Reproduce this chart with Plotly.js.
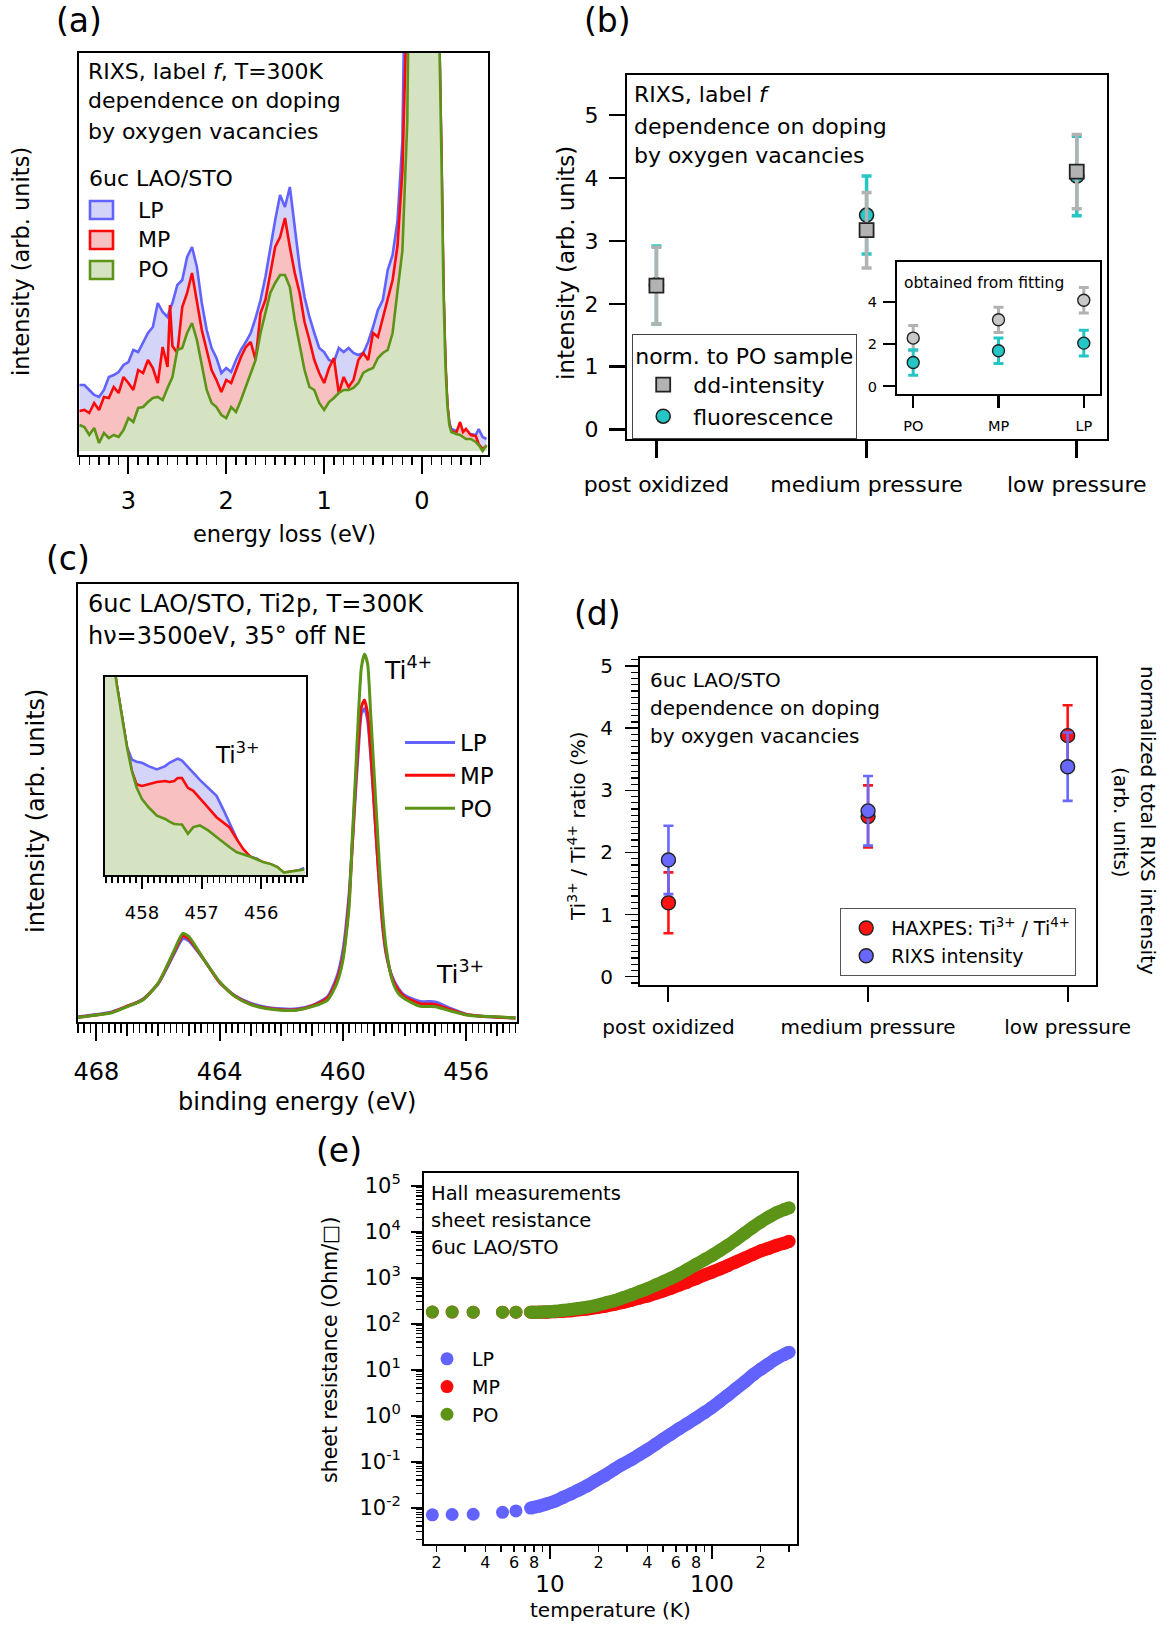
<!DOCTYPE html>
<html>
<head>
<meta charset="utf-8">
<script src="https://cdn.plot.ly/plotly-3.0.1.min.js"></script>
<style>
  html, body { margin: 0; padding: 0; background: #fff; }
  #fig { width: 1169px; height: 1625px; }
</style>
</head>
<body>
<div id="fig"></div>
<script>
// ---------------- (a) RIXS spectra vs energy loss ----------------
const lossEV = [3.50,3.45,3.40,3.35,3.30,3.25,3.20,3.15,3.10,3.05,
  3.00,2.95,2.90,2.85,2.80,2.75,2.70,2.65,2.60,2.575,
  2.55,2.50,2.45,2.40,2.35,2.30,2.25,2.20,2.15,2.10,
  2.05,2.00,1.95,1.90,1.85,1.80,1.75,1.70,1.65,1.60,
  1.55,1.50,1.45,1.40,1.35,1.30,1.25,1.20,1.15,1.10,
  1.05,1.00,0.95,0.90,0.85,0.80,0.75,0.70,0.65,0.60,
  0.55,0.50,0.45,0.40,0.35,0.30,0.25,0.20,0.15,0.10,
  0.05,0.00,-0.05,-0.10,-0.15,-0.18,-0.20,-0.22,-0.24,-0.26,
  -0.28,-0.30,-0.35,-0.39,-0.42,-0.45,-0.50,-0.55,-0.58,-0.62,
  -0.66];
const rixsLP = [0.66,0.66,0.61,0.56,0.54,0.61,0.74,0.76,0.79,0.86,
  0.89,1.01,0.99,1.09,1.18,1.24,1.48,1.39,1.34,1.42,
  1.48,1.66,1.71,1.94,2.04,1.84,1.48,1.21,1.03,0.93,
  0.78,0.83,0.79,0.91,1.01,1.09,1.18,1.33,1.51,1.74,
  2.04,2.31,2.56,2.44,2.64,2.24,1.84,1.54,1.34,1.18,
  1.03,0.99,0.91,0.89,1.03,0.99,1.03,0.98,0.96,0.98,
  1.09,1.24,1.41,1.51,1.81,1.96,2.30,3.10,5.0,9.0,
  14,16,15,11,6.5,4.0,2.9,1.6,0.85,0.45,
  0.28,0.22,0.20,0.22,0.17,0.16,0.17,0.16,0.22,0.14,
  0.12];
const rixsMP = [0.40,0.41,0.38,0.48,0.41,0.54,0.53,0.64,0.58,0.74,
  0.68,0.61,0.81,0.78,0.91,0.83,0.68,1.04,0.84,1.46,
  1.05,0.98,1.44,1.58,1.78,1.48,1.21,1.01,0.81,0.71,
  0.59,0.71,0.68,0.81,0.94,1.04,1.09,0.91,1.38,1.51,
  1.78,2.04,2.14,2.33,2.04,1.78,1.58,1.29,1.11,0.91,
  0.78,0.68,0.83,0.93,0.58,0.74,0.64,0.71,0.91,0.98,
  0.91,1.18,1.14,1.34,1.51,1.71,2.05,2.80,4.6,8.5,
  14,16,15,11,6.5,4.0,2.95,1.65,0.9,0.47,
  0.27,0.20,0.18,0.29,0.19,0.22,0.16,0.15,0.07,0.02,
  0.05];
const rixsPO = [0.26,0.24,0.16,0.23,0.08,0.18,0.13,0.16,0.14,0.21,
  0.33,0.29,0.43,0.44,0.49,0.53,0.54,0.51,0.63,0.68,
  0.74,1.01,1.03,1.18,1.28,1.11,0.84,0.61,0.48,0.44,
  0.36,0.33,0.44,0.39,0.51,0.64,0.78,0.91,1.18,1.38,
  1.58,1.68,1.76,1.76,1.64,1.31,1.04,0.81,0.64,0.61,
  0.48,0.41,0.49,0.53,0.58,0.61,0.61,0.63,0.68,0.78,
  0.81,0.83,0.93,0.98,1.01,1.18,1.60,2.00,3.3,7.0,
  12,16,15,11,6.5,4.0,2.9,1.6,0.85,0.45,
  0.26,0.19,0.17,0.16,0.14,0.12,0.12,0.09,0.06,0.00,
  0.06];

// ---------------- (b) dd-intensity and fluorescence ----------------
const sampleNames = ['post oxidized', 'medium pressure', 'low pressure'];
const ddIntensity = [2.29, 3.17, 4.10];
const ddIntensityErr = [0.61, 0.60, 0.59];
const fluorescence = [2.30, 3.41, 4.03];
const fluorescenceErr = [0.62, 0.62, 0.63];
// inset: values obtained from fitting
const sampleShort = ['PO', 'MP', 'LP'];
const fitDD = [2.30, 3.17, 4.10];
const fitDDErr = [0.60, 0.60, 0.61];
const fitFluor = [1.14, 1.70, 2.06];
const fitFluorErr = [0.61, 0.61, 0.61];

// ---------------- (c) HAXPES Ti 2p ----------------
const bindingEV = [468.6,468.0,467.5,467.0,466.5,466.0,465.5,465.2,465.0,464.5,
  464.0,463.5,463.0,462.5,462.0,461.5,461.0,460.5,460.2,460.0,
  459.8,459.7,459.6,459.5,459.4,459.3,459.2,459.1,459.0,458.9,
  458.8,458.7,458.6,458.4,458.2,458.0,457.5,457.0,456.5,456.0,
  455.5,455.0,454.4];
const ti2pLP = [0.012,0.017,0.023,0.036,0.052,0.087,0.153,0.190,0.185,0.141,
  0.090,0.060,0.043,0.034,0.030,0.030,0.038,0.058,0.103,0.164,
  0.293,0.400,0.514,0.620,0.704,0.716,0.689,0.610,0.506,0.400,
  0.293,0.210,0.156,0.103,0.077,0.061,0.047,0.046,0.031,0.018,
  0.013,0.011,0.009];
const ti2pMP = [0.011,0.016,0.022,0.036,0.051,0.088,0.157,0.196,0.190,0.141,
  0.090,0.059,0.041,0.032,0.028,0.028,0.037,0.055,0.096,0.149,
  0.278,0.400,0.530,0.640,0.720,0.735,0.704,0.620,0.514,0.400,
  0.300,0.215,0.160,0.100,0.073,0.058,0.042,0.040,0.028,0.017,
  0.013,0.011,0.009];
const ti2pPO = [0.010,0.016,0.021,0.035,0.050,0.088,0.160,0.202,0.195,0.141,
  0.092,0.058,0.040,0.031,0.027,0.027,0.035,0.050,0.088,0.141,
  0.263,0.415,0.552,0.697,0.810,0.840,0.818,0.704,0.582,0.461,
  0.339,0.240,0.171,0.095,0.065,0.053,0.036,0.035,0.025,0.016,
  0.013,0.012,0.009];
// inset: Ti3+ shoulder region
const shoulderEV = [458.65,458.50,458.43,458.34,458.25,458.17,458.09,458.00,457.89,457.75,
  457.61,457.54,457.46,457.40,457.33,457.23,457.14,457.03,456.89,456.75,
  456.64,456.53,456.41,456.30,456.18,456.07,455.96,455.84,455.73,455.62,
  455.51,455.40,455.28];
const shoulderLP = [1.50,1.15,0.975,0.808,0.645,0.583,0.572,0.567,0.550,0.533,
  0.550,0.567,0.580,0.588,0.578,0.545,0.520,0.480,0.440,0.400,
  0.333,0.258,0.183,0.117,0.092,0.083,0.058,0.053,0.033,0.008,
  0.008,0.020,0.035];
const shoulderMP = [1.50,1.15,0.975,0.808,0.642,0.525,0.458,0.450,0.458,0.470,
  0.475,0.470,0.475,0.490,0.490,0.440,0.425,0.385,0.340,0.292,
  0.267,0.240,0.180,0.130,0.092,0.078,0.064,0.055,0.040,0.012,
  0.017,0.022,0.010];
const shoulderPO = [1.50,1.15,0.975,0.808,0.642,0.525,0.442,0.383,0.342,0.300,
  0.283,0.270,0.258,0.256,0.255,0.208,0.242,0.250,0.225,0.192,
  0.165,0.140,0.115,0.105,0.092,0.078,0.064,0.055,0.040,0.012,
  0.017,0.025,0.028];

// ---------------- (d) Ti3+/Ti4+ ratio and RIXS intensity ----------------
const haxpesRatio = [1.19, 2.58, 3.88];
const haxpesErr = [0.49, 0.50, 0.49];
const rixsTotal = [1.88, 2.67, 3.38];
const rixsTotalErr = [0.55, 0.56, 0.55];

// ---------------- (e) sheet resistance vs temperature ----------------
const temperatureK = [1.88,2.49,3.36,5.10,6.17,7.6,8.5,9.5,10.7,12,
  13.5,15,17,19.5,22,25,28,32,36,40,
  45,50,56,63,70,80,90,100,112,125,
  140,160,180,200,225,250,280,300];
const sheetLP = [0.0070,0.0071,0.0072,0.0079,0.0085,0.0098,0.0107,0.0120,0.0138,0.0166,
  0.0200,0.024,0.030,0.040,0.051,0.068,0.087,0.112,0.145,0.182,
  0.240,0.309,0.398,0.525,0.66,0.89,1.17,1.51,2.04,2.75,
  3.80,5.50,7.76,10.2,13.5,17.4,21.4,24.0];
const sheetMP = [179,179,178,178,178,178,178,178,182,186,
  191,200,209,224,240,263,288,324,363,398,
  457,513,589,692,794,955,1148,1318,1549,1820,
  2188,2692,3236,3802,4365,5012,5623,6166];
const sheetPO = [180,180,178,178,178,178,178,182,186,195,
  204,214,229,251,282,316,363,427,501,575,
  692,813,977,1202,1479,1950,2455,3020,3890,5010,
  6610,9330,12600,16200,20900,25700,30200,33100];
// the first five readings are isolated low-temperature points; the rest is a continuous sweep
const sweepStart = 5;

// ---------------- styling ----------------
const W = 1169, H = 1625;
const FONT = 'DejaVu Sans, Verdana, sans-serif';
const C_LP = 'rgb(98,98,255)', C_MP = 'rgb(250,10,10)', C_PO = 'rgb(92,148,24)';
const F_LP = 'rgb(212,212,248)', F_MP = 'rgb(248,192,192)', F_PO = 'rgb(214,227,194)';
const C_GREY = 'rgb(178,178,178)', C_CYAN = 'rgb(36,198,198)';
const C_HAX = 'rgb(255,20,20)', C_RIXS = 'rgb(104,104,255)';
const DOT = 13;

const hdom = (l, r) => [l / W, r / W];
const vdom = (top, bottom) => [1 - bottom / H, 1 - top / H];

function frame(extra) {
  return Object.assign({
    showline: true, mirror: true, linecolor: '#000', linewidth: 2,
    showgrid: false, zeroline: false, ticks: 'outside', tickcolor: '#000',
    tickwidth: 2, fixedrange: true,
    tickfont: { family: FONT, size: 22, color: '#000' }
  }, extra);
}
function bare(extra) {
  return Object.assign({ showline: false, showgrid: false, zeroline: false, ticks: '', showticklabels: false, fixedrange: true }, extra);
}

// log-axis minor tick positions (2..9 in each decade)
function logMinor(d0, d1) {
  const v = [];
  for (let d = d0; d <= d1; d++) for (let m = 2; m <= 9; m++) v.push(m * Math.pow(10, d));
  return v;
}

const traces = [];
// (a)
[[rixsLP, C_LP, F_LP, 'LP'], [rixsMP, C_MP, F_MP, 'MP'], [rixsPO, C_PO, F_PO, 'PO']].forEach(([y, c, f, n]) => {
  traces.push({ x: lossEV, y: y, xaxis: 'x', yaxis: 'y', type: 'scatter', mode: 'lines', name: n,
    line: { color: c, width: 2.6 }, fill: 'tozeroy', fillcolor: f, showlegend: false, hoverinfo: 'skip' });
});
// (b) main
traces.push({ x: sampleNames, y: fluorescence, xaxis: 'x2', yaxis: 'y2', type: 'scatter', mode: 'markers',
  name: 'fluorescence', legend: 'legend2', legendrank: 2,
  error_y: { type: 'data', array: fluorescenceErr, color: C_CYAN, thickness: 3.5, width: 5 },
  marker: { symbol: 'circle', size: 14, color: C_CYAN, line: { color: '#222', width: 1.6 } } });
traces.push({ x: sampleNames, y: ddIntensity, xaxis: 'x2', yaxis: 'y2', type: 'scatter', mode: 'markers',
  name: 'dd-intensity', legend: 'legend2', legendrank: 1,
  error_y: { type: 'data', array: ddIntensityErr, color: C_GREY, thickness: 3.5, width: 5 },
  marker: { symbol: 'square', size: 14, color: C_GREY, line: { color: '#222', width: 1.8 } } });
// (b) inset
traces.push({ x: sampleShort, y: fitDD, xaxis: 'x3', yaxis: 'y3', type: 'scatter', mode: 'markers', showlegend: false,
  error_y: { type: 'data', array: fitDDErr, color: C_GREY, thickness: 3, width: 5 },
  marker: { symbol: 'circle', size: 12, color: 'rgb(200,200,200)', line: { color: '#222', width: 1.4 } } });
traces.push({ x: sampleShort, y: fitFluor, xaxis: 'x3', yaxis: 'y3', type: 'scatter', mode: 'markers', showlegend: false,
  error_y: { type: 'data', array: fitFluorErr, color: C_CYAN, thickness: 3, width: 5 },
  marker: { symbol: 'circle', size: 12, color: C_CYAN, line: { color: '#222', width: 1.4 } } });
// (c) main
[[ti2pLP, C_LP, 'LP'], [ti2pMP, C_MP, 'MP'], [ti2pPO, C_PO, 'PO']].forEach(([y, c, n]) => {
  traces.push({ x: bindingEV, y: y, xaxis: 'x4', yaxis: 'y4', type: 'scatter', mode: 'lines', name: n,
    legend: 'legend', line: { color: c, width: 3, shape: 'spline', smoothing: 0.6 } });
});
// (c) inset
[[shoulderLP, C_LP, F_LP], [shoulderMP, C_MP, F_MP], [shoulderPO, C_PO, F_PO]].forEach(([y, c, f]) => {
  traces.push({ x: shoulderEV, y: y, xaxis: 'x5', yaxis: 'y5', type: 'scatter', mode: 'lines', showlegend: false,
    line: { color: c, width: 2.6 }, fill: 'tozeroy', fillcolor: f });
});
// (d)
traces.push({ x: sampleNames, y: haxpesRatio, xaxis: 'x6', yaxis: 'y6', type: 'scatter', mode: 'markers',
  name: 'HAXPES: Ti<sup>3+</sup> / Ti<sup>4+</sup>', legend: 'legend3',
  error_y: { type: 'data', array: haxpesErr, color: C_HAX, thickness: 2.6, width: 5 },
  marker: { symbol: 'circle', size: 14, color: C_HAX, line: { color: '#222', width: 1.4 } } });
traces.push({ x: sampleNames, y: rixsTotal, xaxis: 'x6', yaxis: 'y6', type: 'scatter', mode: 'markers',
  name: 'RIXS intensity', legend: 'legend3',
  error_y: { type: 'data', array: rixsTotalErr, color: C_RIXS, thickness: 2.6, width: 5 },
  marker: { symbol: 'circle', size: 14, color: C_RIXS, line: { color: '#222', width: 1.4 } } });
// (e): dense sweep drawn as a band of the dot width, every reading as a dot
[[sheetLP, C_LP, 'LP'], [sheetMP, C_MP, 'MP'], [sheetPO, C_PO, 'PO']].forEach(([y, c, n]) => {
  traces.push({ x: temperatureK.slice(sweepStart), y: y.slice(sweepStart), xaxis: 'x7', yaxis: 'y7',
    type: 'scatter', mode: 'lines', showlegend: false, hoverinfo: 'skip',
    line: { color: c, width: DOT, shape: 'spline', smoothing: 0.5 } });
  traces.push({ x: temperatureK, y: y, xaxis: 'x7', yaxis: 'y7', type: 'scatter', mode: 'markers', name: n,
    legend: 'legend4', marker: { symbol: 'circle', size: DOT, color: c } });
});
// tick-only companion axes (no data)
traces.push({ x: [], y: [], xaxis: 'x8', yaxis: 'y7', type: 'scatter', mode: 'markers', showlegend: false });
traces.push({ x: [], y: [], xaxis: 'x9', yaxis: 'y4', type: 'scatter', mode: 'markers', showlegend: false });

// text helpers
function note(x, y, text, size, opts) {
  return Object.assign({ xref: 'paper', yref: 'paper', x: x / W, y: 1 - y / H, text: text, showarrow: false,
    xanchor: 'left', yanchor: 'middle', font: { family: FONT, size: size, color: '#000' } }, opts || {});
}
const mid = { xanchor: 'center' };
const vert = { xanchor: 'center', yanchor: 'middle', textangle: -90 };

const annotations = [
  // panel letters
  note(79, 20, '(a)', 33, mid), note(607, 20, '(b)', 33, mid), note(68, 558, '(c)', 33, mid),
  note(597, 613, '(d)', 33, mid), note(339, 1150, '(e)', 33, mid),
  // (a)
  note(86, 71, 'RIXS, label <i>f</i>, T=300K', 22), note(86, 101, 'dependence on doping', 22),
  note(86, 131, 'by oxygen vacancies', 22), note(87, 178, '6uc LAO/STO', 22),
  note(136, 210, 'LP', 22), note(136, 240, 'MP', 22), note(136, 270, 'PO', 22),
  note(284, 534, 'energy loss (eV)', 22.5, mid),
  note(21, 262, 'intensity (arb. units)', 22.5, vert),
  // (b)
  note(632, 95, 'RIXS, label <i>f</i>', 22), note(632, 126, 'dependence on doping', 22),
  note(632, 156, 'by oxygen vacancies', 22), note(902, 283, 'obtained from fitting', 15.5),
  note(566, 263, 'intensity (arb. units)', 23, vert),
  // (c)
  note(86, 604, '6uc LAO/STO, Ti2p, T=300K', 24), note(86, 636, 'hν=3500eV, 35° off NE', 24),
  note(382, 668, 'Ti<sup>4+</sup>', 25), note(434, 973, 'Ti<sup>3+</sup>', 25),
  note(213, 753, 'Ti<sup>3+</sup>', 23),
  note(297, 1102, 'binding energy (eV)', 24, mid),
  note(36, 811, 'intensity (arb. units)', 24, vert),
  // (d)
  note(648, 680, '6uc LAO/STO', 20), note(648, 708, 'dependence on doping', 20),
  note(648, 736, 'by oxygen vacancies', 20),
  note(577, 826, 'Ti<sup>3+</sup> / Ti<sup>4+</sup> ratio (%)', 20, vert),
  note(1148, 820, 'normalized total RIXS intensity', 20, { xanchor: 'center', textangle: 90 }),
  note(1121, 822, '(arb. units)', 20, { xanchor: 'center', textangle: 90 }),
  // (e)
  note(429, 1193, 'Hall measurements', 19.5), note(429, 1220, 'sheet resistance', 19.5),
  note(429, 1247, '6uc LAO/STO', 19.5),
  note(610, 1610, 'temperature (K)', 20, mid),
  note(330, 1350, 'sheet resistance (Ohm/\u25A1)', 20.5, vert)
];

// (a) legend swatches
function swatch(cy, line, fill) {
  return { type: 'rect', xref: 'paper', yref: 'paper', x0: 90 / W, x1: 113 / W,
    y0: 1 - (cy + 9) / H, y1: 1 - (cy - 9) / H, line: { color: line, width: 2.6 }, fillcolor: fill };
}
const shapes = [swatch(210, C_LP, F_LP), swatch(240, C_MP, F_MP), swatch(270, C_PO, F_PO)];

const layout = {
  width: W, height: H, autosize: false,
  margin: { l: 0, r: 0, t: 0, b: 0, pad: 0 },
  paper_bgcolor: '#fff', plot_bgcolor: '#fff',
  font: { family: FONT, color: '#000' },
  showlegend: true,
  // (a)
  xaxis: frame({ domain: hdom(79, 488), anchor: 'y', range: [3.505, -0.675], tickmode: 'linear', tick0: 0, dtick: 1,
    ticklen: 17, tickfont: { family: FONT, size: 24, color: '#000' }, ticklabelstandoff: 6,
    minor: { tick0: 0, dtick: 0.1, ticklen: 8, tickwidth: 1.5, tickcolor: '#000', ticks: 'outside' } }),
  yaxis: frame({ domain: vdom(53, 455), anchor: 'x', range: [-0.04, 3.98], ticks: '', showticklabels: false }),
  // (b) main
  xaxis2: frame({ domain: hdom(627, 1107), anchor: 'y2', type: 'category', range: [-0.14, 2.144],
    ticklen: 17, tickwidth: 2.5, ticklabelstandoff: 8 }),
  yaxis2: frame({ domain: vdom(75, 439), anchor: 'x2', range: [-0.148, 5.635], tickmode: 'linear', tick0: 0, dtick: 1,
    ticklen: 16, tickwidth: 2.5, ticklabelstandoff: 6 }),
  // (b) inset
  xaxis3: frame({ domain: hdom(897, 1100), anchor: 'y3', type: 'category', range: [-0.19, 2.19],
    ticklen: 12, tickwidth: 2.5, ticklabelstandoff: 6, tickfont: { family: FONT, size: 14.5, color: '#000' } }),
  yaxis3: frame({ domain: vdom(262, 394), anchor: 'x3', range: [-0.36, 5.92], tickvals: [0, 2, 4],
    ticklen: 12, tickwidth: 2, ticklabelstandoff: 3, tickfont: { family: FONT, size: 14.5, color: '#000' } }),
  // (c) main
  xaxis4: frame({ domain: hdom(78, 517), anchor: 'y4', range: [468.6, 454.35], tickvals: [468, 464, 460, 456],
    ticklen: 17, tickfont: { family: FONT, size: 24, color: '#000' }, ticklabelstandoff: 10,
    minor: { tick0: 0, dtick: 0.2, ticklen: 9, tickwidth: 1.5, tickcolor: '#000', ticks: 'outside' } }),
  xaxis9: bare({ overlaying: 'x4', anchor: 'y4', side: 'bottom', range: [468.6, 454.35], tickmode: 'linear',
    tick0: 0, dtick: 1, ticks: 'outside', ticklen: 13, tickwidth: 2, tickcolor: '#000' }),
  yaxis4: frame({ domain: vdom(584, 1022), anchor: 'x4', range: [0, 1], ticks: '', showticklabels: false }),
  // (c) inset
  xaxis5: frame({ domain: hdom(105, 306), anchor: 'y5', range: [458.62, 455.25], tickmode: 'linear', tick0: 0, dtick: 1,
    ticklen: 12, ticklabelstandoff: 8, tickfont: { family: FONT, size: 18, color: '#000' },
    minor: { tick0: 0, dtick: 0.1, ticklen: 6, tickwidth: 1.5, tickcolor: '#000', ticks: 'outside' } }),
  yaxis5: frame({ domain: vdom(677, 875), anchor: 'x5', range: [0, 1], ticks: '', showticklabels: false }),
  // (d)
  xaxis6: frame({ domain: hdom(640, 1096), anchor: 'y6', type: 'category', range: [-0.1425, 2.142],
    ticklen: 15, tickwidth: 2, ticklabelstandoff: 8, tickfont: { family: FONT, size: 20, color: '#000' } }),
  yaxis6: frame({ domain: vdom(658, 985), anchor: 'x6', range: [-0.133, 5.13], tickmode: 'linear', tick0: 0, dtick: 1,
    ticklen: 13, tickwidth: 1.5, ticklabelstandoff: 8, tickfont: { family: FONT, size: 20, color: '#000' },
    minor: { tick0: 0, dtick: 0.1, ticklen: 7, tickwidth: 1.2, tickcolor: '#000', ticks: 'outside' } }),
  // (e)
  xaxis7: frame({ domain: hdom(424, 797), anchor: 'y7', type: 'log', range: [0.2226, 2.5257],
    tickvals: [10, 100], ticktext: ['10', '100'], ticklen: 13, tickwidth: 2, ticklabelstandoff: 5,
    tickfont: { family: FONT, size: 23, color: '#000' },
    minor: { tickvals: logMinor(0, 2), ticklen: 6, tickwidth: 1.5, tickcolor: '#000', ticks: 'outside' } }),
  xaxis8: bare({ overlaying: 'x7', anchor: 'y7', side: 'bottom', type: 'log', range: [0.2226, 2.5257],
    tickvals: [2, 4, 6, 8, 20, 40, 60, 80, 200], ticktext: ['2', '4', '6', '8', '2', '4', '6', '8', '2'],
    showticklabels: true, ticklabelstandoff: 7, tickfont: { family: FONT, size: 16, color: '#000' } }),
  yaxis7: frame({ domain: vdom(1173, 1544), anchor: 'x7', type: 'log', range: [-2.79, 5.276],
    tickvals: [1e-2, 1e-1, 1, 10, 100, 1e3, 1e4, 1e5],
    ticktext: ['10<sup>-2</sup>', '10<sup>-1</sup>', '10<sup>0</sup>', '10<sup>1</sup>', '10<sup>2</sup>',
      '10<sup>3</sup>', '10<sup>4</sup>', '10<sup>5</sup>'],
    ticklen: 11, tickwidth: 2, ticklabelstandoff: 6, tickfont: { family: FONT, size: 21, color: '#000' },
    minor: { tickvals: logMinor(-3, 5), ticklen: 6, tickwidth: 1.2, tickcolor: '#000', ticks: 'outside' } }),
  // legends
  legend: { x: 400 / W, y: 1 - 721 / H, xanchor: 'left', yanchor: 'top', bgcolor: 'rgba(0,0,0,0)',
    font: { family: FONT, size: 23, color: '#000' }, itemwidth: 50, tracegroupgap: 0 },
  legend2: { x: 632 / W, y: 1 - 334 / H, xanchor: 'left', yanchor: 'top', bgcolor: '#fff',
    bordercolor: '#444', borderwidth: 1.2, font: { family: FONT, size: 22, color: '#000' }, itemwidth: 50,
    title: { text: 'norm. to PO sample', side: 'top', font: { family: FONT, size: 22, color: '#000' } } },
  legend3: { x: 840 / W, y: 1 - 908 / H, xanchor: 'left', yanchor: 'top', bgcolor: '#fff',
    bordercolor: '#555', borderwidth: 1.2, font: { family: FONT, size: 19, color: '#000' }, itemwidth: 40 },
  legend4: { x: 422 / W, y: 1 - 1340 / H, xanchor: 'left', yanchor: 'top', bgcolor: 'rgba(0,0,0,0)',
    font: { family: FONT, size: 19, color: '#000' }, itemwidth: 40 },
  annotations: annotations,
  shapes: shapes
};

Plotly.newPlot('fig', traces, layout, { staticPlot: true, displayModeBar: false });
</script>
</body>
</html>
